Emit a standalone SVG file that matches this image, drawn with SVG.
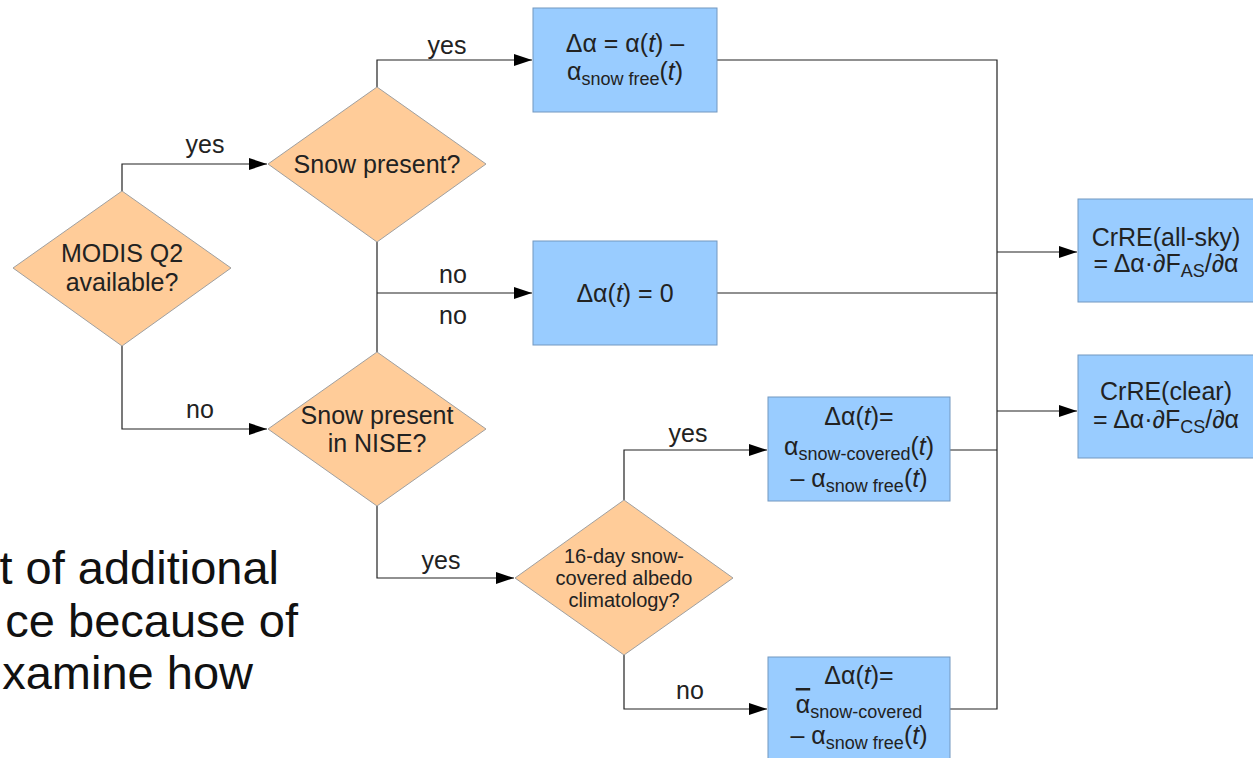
<svg xmlns="http://www.w3.org/2000/svg" width="1253" height="758" viewBox="0 0 1253 758">
<style>
text{font-family:"Liberation Sans",Arial,sans-serif;fill:#222;}
.t25{font-size:25px;text-anchor:middle;}
.t20{font-size:20px;text-anchor:middle;}
.dia{fill:#ffcc99;stroke:#a0a0a0;stroke-width:1;}
.box{fill:#99ccff;stroke:#7398c0;stroke-width:1;}
.con{fill:none;stroke:#222;stroke-width:1.2;}
.lbl{font-size:25px;text-anchor:middle;}
.bg{font-size:47px;text-anchor:end;fill:#111;}
.it{font-style:italic;}
.sub{font-size:18px;}
</style>
<defs>
<marker id="arr" markerUnits="userSpaceOnUse" markerWidth="19" markerHeight="13" refX="18" refY="6.5" orient="auto">
<path d="M0,0.5 L18,6.5 L0,12.5 z" fill="#000"/>
</marker>
</defs>
<rect width="1253" height="758" fill="#fff"/>

<g id="background-text">
<text class="bg" x="279" y="584">t of additional</text>
<text class="bg" x="298" y="637">ce because of</text>
<text class="bg" x="253" y="689">xamine how</text>
</g>

<g id="connectors">
<polyline class="con" points="122,191 122,164 267,164" marker-end="url(#arr)"/>
<polyline class="con" points="122,346 122,429 267,429" marker-end="url(#arr)"/>
<polyline class="con" points="377,87 377,60 532,60" marker-end="url(#arr)"/>
<polyline class="con" points="377,242 377,352"/>
<polyline class="con" points="377,293 532,293" marker-end="url(#arr)"/>
<polyline class="con" points="377,506 377,578 514,578" marker-end="url(#arr)"/>
<polyline class="con" points="624,500 624,450 767,450" marker-end="url(#arr)"/>
<polyline class="con" points="624,655 624,709 767,709" marker-end="url(#arr)"/>
<polyline class="con" points="717,60 997,60 997,709 950,709"/>
<polyline class="con" points="717,293 997,293"/>
<polyline class="con" points="950,450 997,450"/>
<polyline class="con" points="997,252 1077,252" marker-end="url(#arr)"/>
<polyline class="con" points="997,411 1077,411" marker-end="url(#arr)"/>
<text class="lbl" x="205" y="153">yes</text>
<text class="lbl" x="200" y="418">no</text>
<text class="lbl" x="447" y="54">yes</text>
<text class="lbl" x="453" y="283">no</text>
<text class="lbl" x="453" y="324">no</text>
<text class="lbl" x="441" y="569">yes</text>
<text class="lbl" x="688" y="442">yes</text>
<text class="lbl" x="690" y="699">no</text>
</g>

<g id="modis">
<polygon class="dia" points="122,191 231,268 122,346 13,268"/>
<text class="t25" x="122" y="262">MODIS Q2</text>
<text class="t25" x="122" y="291">available?</text>
</g>

<g id="snow-present">
<polygon class="dia" points="377,87 486,164 377,242 268,164"/>
<text class="t25" x="377" y="173">Snow present?</text>
</g>

<g id="snow-nise">
<polygon class="dia" points="377,352 486,429 377,506 268,429"/>
<text class="t25" x="377" y="424">Snow present</text>
<text class="t25" x="377" y="452">in NISE?</text>
</g>

<g id="climatology">
<polygon class="dia" points="624,500 733,578 624,655 515,578"/>
<text class="t20" x="624" y="563">16-day snow-</text>
<text class="t20" x="624" y="585">covered albedo</text>
<text class="t20" x="624" y="607">climatology?</text>
</g>

<g id="box-snowfree">
<rect class="box" x="533" y="8" width="184" height="104"/>
<text class="t25" x="625" y="52">Δα = α(<tspan class="it">t</tspan>) –</text>
<text class="t25" x="625" y="80">α<tspan class="sub" dy="5">snow free</tspan><tspan dy="-5">(</tspan><tspan class="it">t</tspan>)</text>
</g>

<g id="box-zero">
<rect class="box" x="533" y="241" width="184" height="104"/>
<text class="t25" x="625" y="302">Δα(<tspan class="it">t</tspan>) = 0</text>
</g>

<g id="box-covered">
<rect class="box" x="768" y="397" width="182" height="104"/>
<text class="t25" x="859" y="425">Δα(<tspan class="it">t</tspan>)=</text>
<text class="t25" x="859" y="455">α<tspan class="sub" dy="5">snow-covered</tspan><tspan dy="-5">(</tspan><tspan class="it">t</tspan>)</text>
<text class="t25" x="859" y="487">– α<tspan class="sub" dy="5">snow free</tspan><tspan dy="-5">(</tspan><tspan class="it">t</tspan>)</text>
</g>

<g id="box-climatology">
<rect class="box" x="768" y="657" width="182" height="104"/>
<text class="t25" x="859" y="684">Δα(<tspan class="it">t</tspan>)=</text>
<text class="t25" x="859" y="713"><tspan text-decoration="overline">α</tspan><tspan class="sub" dy="5">snow-covered</tspan></text>
<text class="t25" x="859" y="744">– α<tspan class="sub" dy="5">snow free</tspan><tspan dy="-5">(</tspan><tspan class="it">t</tspan>)</text>
</g>

<g id="box-allsky">
<rect class="box" x="1078" y="199" width="177" height="103"/>
<text class="t25" x="1166" y="246">CrRE(all-sky)</text>
<text class="t25" x="1166" y="272">= Δα·∂F<tspan class="sub" dy="5">AS</tspan><tspan dy="-5">/∂α</tspan></text>
</g>

<g id="box-clear">
<rect class="box" x="1078" y="355" width="177" height="103"/>
<text class="t25" x="1166" y="400">CrRE(clear)</text>
<text class="t25" x="1166" y="428">= Δα·∂F<tspan class="sub" dy="5">CS</tspan><tspan dy="-5">/∂α</tspan></text>
</g>
</svg>
